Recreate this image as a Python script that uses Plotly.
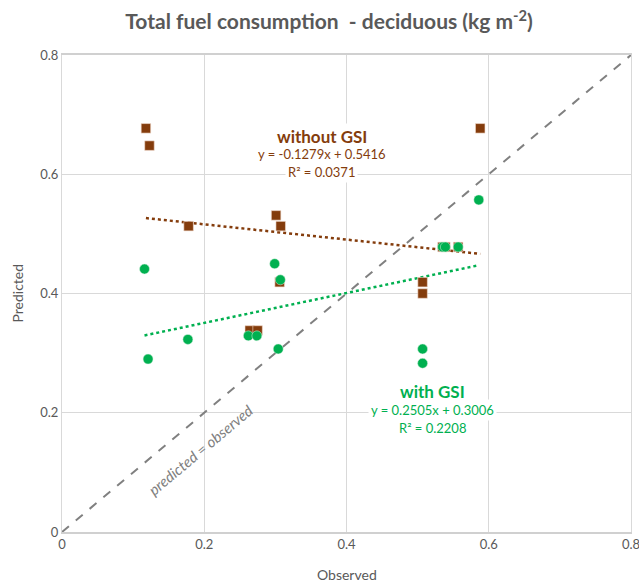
import plotly.graph_objects as go

# Observed values
obs_without = [0.118, 0.123, 0.178, 0.264, 0.275, 0.301, 0.3075, 0.306, 0.507, 0.507, 0.535, 0.539, 0.557, 0.588]
pred_without = [0.677, 0.648, 0.513, 0.338, 0.338, 0.531, 0.513, 0.419, 0.419, 0.400, 0.478, 0.478, 0.478, 0.677]

obs_with = [0.116, 0.121, 0.177, 0.262, 0.274, 0.299, 0.307, 0.304, 0.507, 0.507, 0.535, 0.539, 0.557, 0.586]
pred_with = [0.441, 0.290, 0.323, 0.329, 0.329, 0.450, 0.423, 0.307, 0.307, 0.283, 0.478, 0.478, 0.478, 0.557]

# Trendline coefficients (as printed on the chart)
slope_without, icpt_without, r2_without = -0.1279, 0.5416, 0.0371
slope_with, icpt_with, r2_with = 0.2505, 0.3006, 0.2208

x_ticks = [0, 0.2, 0.4, 0.6, 0.8]
y_ticks = [0, 0.2, 0.4, 0.6, 0.8]

BROWN = "#843C0C"
GREEN = "#00B050"
GRAY_TXT = "#595959"
FONT = "Lato"

fig = go.Figure()

# 1:1 line
fig.add_trace(go.Scatter(x=[0, 0.8], y=[0, 0.8], mode="lines",
                         line=dict(color="#808080", width=2, dash="dash"),
                         hoverinfo="skip", showlegend=False))

# trendlines
xa = [min(obs_without), max(obs_without)]
fig.add_trace(go.Scatter(x=xa, y=[slope_without * v + icpt_without for v in xa], mode="lines",
                         line=dict(color=BROWN, width=2.5, dash="dot"), showlegend=False))
xb = [min(obs_with), max(obs_with)]
fig.add_trace(go.Scatter(x=xb, y=[slope_with * v + icpt_with for v in xb], mode="lines",
                         line=dict(color=GREEN, width=2.5, dash="dot"), showlegend=False))

fig.add_trace(go.Scatter(x=obs_without, y=pred_without, mode="markers", name="without GSI",
                         marker=dict(symbol="square", size=9.5, color=BROWN,
                                     line=dict(color="#F2DCCF", width=0.6)),
                         showlegend=False))
fig.add_trace(go.Scatter(x=obs_with, y=pred_with, mode="markers", name="with GSI",
                         marker=dict(symbol="circle", size=10, color=GREEN,
                                     line=dict(color="#D9F2E3", width=0.5)),
                         showlegend=False))

ann = []
def label(x, y, text, color, size, bold=False):
    ann.append(dict(x=x, y=y, xref="x", yref="y", showarrow=False,
                    text=f"<b>{text}</b>" if bold else text,
                    font=dict(family=FONT, size=size, color=color),
                    bgcolor="white", borderpad=2))

label(0.365, 0.664, "without GSI", BROWN, 17, bold=True)
label(0.365, 0.634, f"y = {slope_without:.4f}x + {icpt_without:.4f}", BROWN, 13)
label(0.365, 0.604, f"R² = {r2_without:.4f}", BROWN, 13)

label(0.5216, 0.236, "with GSI", GREEN, 17, bold=True)
label(0.5216, 0.204, f"y = {slope_with:.4f}x + {icpt_with:.4f}", GREEN, 13)
label(0.5216, 0.174, f"R² = {r2_with:.4f}", GREEN, 13)

ann.append(dict(x=0.194, y=0.138, xref="x", yref="y", showarrow=False,
                text="<i>predicted = observed</i>", textangle=-40,
                font=dict(family=FONT, size=15, color="#808080")))

# axis titles
ann.append(dict(x=0.5, y=-0.09, xref="paper", yref="paper", showarrow=False,
                xanchor="center", yanchor="middle", text="Observed",
                font=dict(family=FONT, size=14, color=GRAY_TXT)))
ann.append(dict(x=-0.079, y=0.5, xref="paper", yref="paper", showarrow=False,
                xanchor="center", yanchor="middle", text="Predicted", textangle=-90,
                font=dict(family=FONT, size=14, color=GRAY_TXT)))

fig.update_layout(
    width=639, height=582,
    margin=dict(l=62, r=8, t=55, b=50),
    paper_bgcolor="white", plot_bgcolor="white",
    title=dict(text="<b>Total fuel consumption  - deciduous (kg m<sup>-2</sup>)</b>",
               x=0.515, xanchor="center", y=0.962, yanchor="middle",
               font=dict(family=FONT, size=21, color=GRAY_TXT)),
    annotations=ann,
    font=dict(family=FONT, color=GRAY_TXT),
    hovermode=False,
)
fig.update_xaxes(range=[0, 0.8], tickvals=x_ticks, ticktext=[f"{v:g}" for v in x_ticks],
                 showgrid=True, gridcolor="#D9D9D9", gridwidth=1,
                 showline=True, linecolor="#D0D0D0", linewidth=1.5, mirror=True,
                 zeroline=False, ticks="", tickfont=dict(size=13, color=GRAY_TXT),
                 ticklabeloverflow="allow", automargin=False)
fig.update_yaxes(range=[0, 0.8], tickvals=y_ticks, ticktext=[f"{v:g}" for v in y_ticks],
                 showgrid=True, gridcolor="#D9D9D9", gridwidth=1,
                 showline=True, linecolor="#D9D9D9", linewidth=1, mirror=True,
                 zeroline=False, ticks="", tickfont=dict(size=13, color=GRAY_TXT),
                 ticklabeloverflow="allow", automargin=False)

fig.write_html("out.html", config={"displayModeBar": False},
               post_script="document.body.style.margin='0';")
